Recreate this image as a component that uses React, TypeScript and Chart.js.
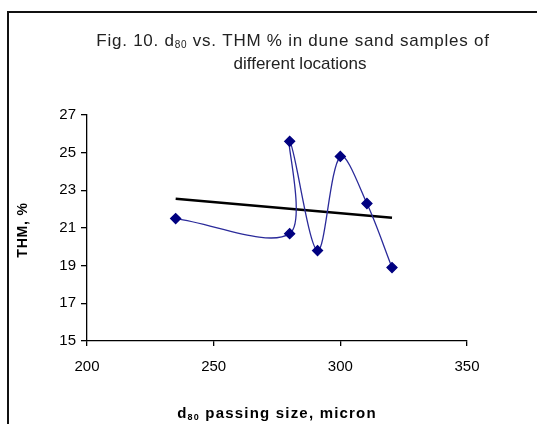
import React, { useEffect, useRef } from "react";
import { Chart, registerables } from "chart.js";

Chart.register(...registerables);

// Data
const sizeMicron = [235, 280, 280, 291, 300, 310.5, 320.4];
const thmPercent = [21.5, 20.7, 25.6, 19.8, 24.8, 22.3, 18.9];
const trendX = [235, 320.4];
const trendY = [22.55, 21.54];
const xTicks = [200, 250, 300, 350];
const yTicks = [15, 17, 19, 21, 23, 25, 27];

type Part = { text: string; font: string; dy?: number };

function drawRich(ctx: CanvasRenderingContext2D, parts: Part[], cx: number, y: number, ls = 0) {
  const c: any = ctx;
  c.letterSpacing = `${ls}px`;
  let total = 0;
  const widths = parts.map((p) => {
    ctx.font = p.font;
    const w = ctx.measureText(p.text).width;
    total += w;
    return w;
  });
  let x = cx - total / 2;
  ctx.textAlign = "left";
  ctx.textBaseline = "alphabetic";
  parts.forEach((p, i) => {
    ctx.font = p.font;
    ctx.fillText(p.text, x, y + (p.dy || 0));
    x += widths[i];
  });
  c.letterSpacing = "0px";
}

const FAM = "'Liberation Sans', Arial, sans-serif";

const decorPlugin = {
  id: "decor",
  afterDraw(chart: any) {
    const ctx: CanvasRenderingContext2D = chart.ctx;
    ctx.save();
    // frame
    ctx.fillStyle = "#111";
    ctx.fillRect(7, 11, 2, 424);
    ctx.fillRect(7, 11, 540, 2);
    // title
    ctx.fillStyle = "#222";
    const tf = `17px ${FAM}`;
    const ts = `10px ${FAM}`;
    drawRich(ctx, [
      { text: "Fig. 10. d", font: tf },
      { text: "80", font: ts, dy: 2 },
      { text: " vs. THM % in dune sand samples of", font: tf },
    ], 293, 46, 0.75);
    drawRich(ctx, [{ text: "different locations", font: tf }], 300, 69, 0);
    // x title
    ctx.fillStyle = "#000";
    const bf = `bold 15px ${FAM}`;
    const bs = `bold 9px ${FAM}`;
    drawRich(ctx, [
      { text: "d", font: bf },
      { text: "80", font: bs, dy: 2 },
      { text: " passing size, micron", font: bf },
    ], 277, 418, 1.2);
    // y title
    ctx.translate(27, 230);
    ctx.rotate(-Math.PI / 2);
    drawRich(ctx, [{ text: "THM, %", font: `bold 14px ${FAM}` }], 0, 0, 0.8);
    ctx.restore();
  },
};

export default function App() {
  const ref = useRef<HTMLCanvasElement>(null);
  useEffect(() => {
    document.body.style.margin = "0";
    const canvas = ref.current!;
    const tickFont = { family: FAM, size: 15 };
    const chart = new Chart(canvas, {
      type: "scatter",
      data: {
        datasets: [
          {
            data: sizeMicron.map((x, i) => ({ x, y: thmPercent[i] })),
            showLine: true,
            borderColor: "#2a2a9a",
            borderWidth: 1.3,
            backgroundColor: "#000080",
            pointBackgroundColor: "#000080",
            pointBorderColor: "#000080",
            pointStyle: "rectRot",
            pointRadius: 5,
            tension: 0.33,
          },
          {
            data: trendX.map((x, i) => ({ x, y: trendY[i] })),
            showLine: true,
            borderColor: "#000",
            borderWidth: 2.5,
            pointRadius: 0,
          },
        ],
      },
      options: {
        animation: false,
        responsive: false,
        devicePixelRatio: 1,
        layout: { padding: { top: 115, right: 70, left: 0, bottom: 0 } },
        plugins: { legend: { display: false }, tooltip: { enabled: false }, title: { display: false } },
        scales: {
          x: {
            type: "linear",
            min: 200,
            max: 350,
            afterBuildTicks: (s: any) => { s.ticks = xTicks.map((v) => ({ value: v })); },
            afterFit: (s: any) => { s.height = 83; },
            grid: { display: true, drawOnChartArea: false, drawTicks: true, tickLength: 5, color: "#000", lineWidth: 1.3 },
            border: { display: true, color: "#000", width: 1.3 },
            ticks: { color: "#000", font: tickFont, padding: 12, maxRotation: 0 },
          },
          y: {
            type: "linear",
            min: 15,
            max: 27,
            afterBuildTicks: (s: any) => { s.ticks = yTicks.map((v) => ({ value: v })); },
            afterFit: (s: any) => { s.width = 87; },
            grid: { display: true, drawOnChartArea: false, drawTicks: true, tickLength: 6, color: "#000", lineWidth: 1.3 },
            border: { display: true, color: "#000", width: 1.3 },
            ticks: { color: "#000", font: tickFont, padding: 5 },
          },
        },
      },
      plugins: [decorPlugin],
    } as any);
    return () => chart.destroy();
  }, []);
  return (
    <div style={{ position: "fixed", left: 0, top: 0, width: 537, height: 424, background: "#fff" }}>
      <canvas ref={ref} width={537} height={424} style={{ width: 537, height: 424, display: "block" }} />
    </div>
  );
}
